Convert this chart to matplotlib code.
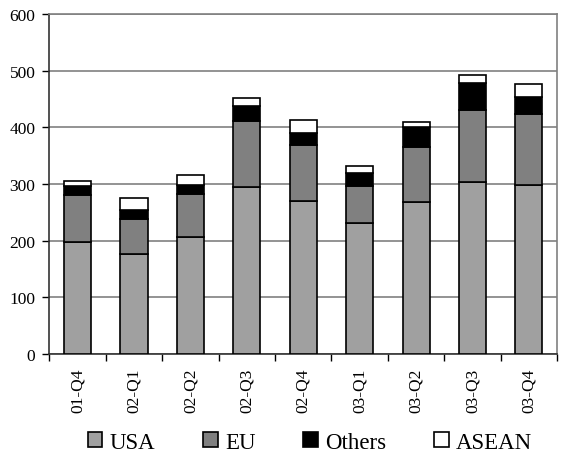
import numpy as np
import matplotlib.pyplot as plt

quarters = ["01-Q4", "02-Q1", "02-Q2", "02-Q3", "02-Q4", "03-Q1", "03-Q2", "03-Q3", "03-Q4"]
usa = [197, 177, 206, 295, 270, 231, 269, 303, 299]
eu = [84, 61, 76, 117, 99, 65, 96, 128, 124]
others = [15, 16, 16, 25, 21, 24, 35, 47, 31]
asean = [10, 21, 18, 15, 23, 12, 9, 14, 23]

plt.rcParams['font.family'] = ['Liberation Serif', 'DejaVu Serif']

fig = plt.figure(figsize=(5.61, 4.56), dpi=100)
ax = fig.add_axes([0.088, 0.2215, 0.905, 0.7455])

x = np.arange(len(quarters))
w = 0.48
series = [("USA", usa, "#a0a0a0"), ("EU", eu, "#808080"),
          ("Others", others, "#000000"), ("ASEAN", asean, "#ffffff")]
bottom = np.zeros(len(quarters))
for name, vals, col in series:
    ax.bar(x, vals, w, bottom=bottom, color=col, edgecolor="black",
           linewidth=1.2, label=name, zorder=3)
    bottom += np.array(vals)

ax.set_ylim(0, 600)
ax.set_yticks(range(0, 601, 100))
ax.set_xlim(-0.5, len(quarters) - 0.5)
ax.set_xticks(x)
ax.set_xticklabels(quarters, rotation=90, fontsize=12.5)
ax.set_xticks(np.arange(-0.5, len(quarters)), minor=True)
ax.tick_params(axis="x", which="major", length=0, pad=10)
ax.tick_params(axis="x", which="minor", length=5, width=1, direction="out")
ax.tick_params(axis="y", length=5, width=1, direction="out", labelsize=12.5, pad=5)
ax.yaxis.grid(True, color="#808080", linewidth=1.2, zorder=0)

for side in ["top", "right"]:
    ax.spines[side].set_color("#808080")
    ax.spines[side].set_linewidth(1.2)
for side in ["left", "bottom"]:
    ax.spines[side].set_color("#333333")
    ax.spines[side].set_linewidth(1.2)

fig.legend(loc="center", bbox_to_anchor=(0.5526, 0.028), ncol=4,
           frameon=False, fontsize=16.5, handlelength=0.65, handleheight=0.65,
           handletextpad=0.3, columnspacing=2.1, borderpad=0)

fig.savefig("out.png", dpi=100)
